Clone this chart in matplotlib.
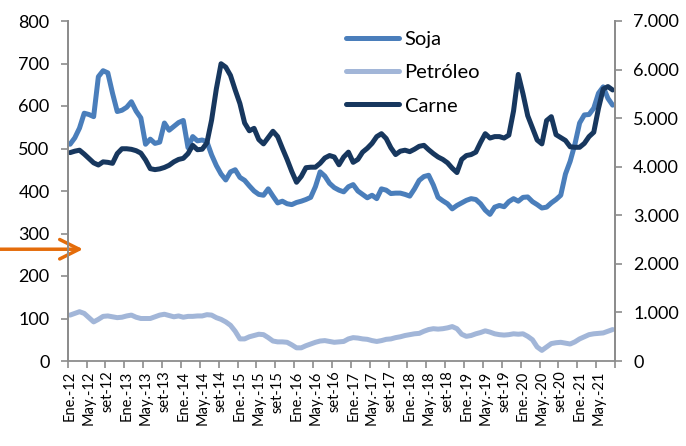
import matplotlib
matplotlib.use("Agg")
import matplotlib.pyplot as plt
from matplotlib.ticker import FuncFormatter, FixedLocator

plt.rcParams['font.family'] = ['Lato', 'DejaVu Sans']

# Monthly series, Jan-2012 .. Aug-2021
soja = [510, 525, 548, 583, 580, 575, 669, 683, 678, 630, 587, 590,
        597, 610, 588, 572, 510, 522, 512, 515, 560, 543, 552, 561,
        566, 502, 528, 518, 520, 516, 485, 460, 440, 426, 445, 450,
        432, 425, 412, 400, 392, 390, 405, 388, 372, 376, 370, 368,
        373, 376, 380, 385, 410, 445, 435, 418, 408, 402, 398, 410,
        415, 400, 392, 384, 390, 382, 405, 402, 394, 395, 395, 392,
        388, 405, 425, 434, 437, 414, 385, 377, 370, 358, 366, 372,
        378, 382, 380, 370, 355, 345, 362, 366, 363, 375, 382, 376,
        385, 386, 375, 368, 360, 362, 372, 380, 390, 440, 470, 510,
        560, 579, 580, 595, 630, 645, 618, 602]

petroleo = [108, 112, 116, 112, 102, 92, 98, 105, 106, 104, 102, 103,
            106, 108, 103, 100, 100, 100, 104, 108, 110, 107, 104, 106,
            103, 105, 105, 106, 106, 109, 108, 102, 98, 92, 84, 70,
            52, 52, 57, 60, 63, 62, 55, 47, 45, 45, 44, 38,
            31, 31, 36, 40, 44, 47, 48, 46, 44, 45, 46, 52,
            55, 54, 52, 51, 48, 46, 48, 51, 52, 55, 57, 60,
            62, 64, 65, 70, 74, 76, 75, 76, 78, 81, 76, 63,
            58, 60, 64, 67, 71, 68, 64, 62, 61, 62, 64, 63,
            64, 58, 50, 33, 25, 33, 41, 43, 44, 42, 40, 45,
            52, 57, 62, 64, 65, 66, 70, 74]

carne = [4290, 4320, 4340, 4260, 4170, 4080, 4035, 4100, 4090, 4070, 4270, 4370,
         4370, 4358, 4330, 4280, 4140, 3960, 3940, 3955, 3985, 4030, 4100, 4150,
         4173, 4270, 4440, 4350, 4360, 4490, 4960, 5600, 6120, 6050, 5880, 5580,
         5300, 4900, 4740, 4790, 4560, 4470, 4600, 4730, 4620, 4380, 4150, 3900,
         3680, 3800, 3980, 3990, 3990, 4070, 4180, 4230, 4200, 4040, 4200, 4300,
         4090, 4150, 4300, 4380, 4480, 4620, 4680, 4580, 4390, 4250, 4320, 4340,
         4310, 4360, 4420, 4440, 4350, 4270, 4200, 4150, 4080, 3970, 3880, 4150,
         4230, 4250, 4300, 4500, 4680, 4590, 4620, 4620, 4590, 4650, 5150, 5900,
         5500, 5050, 4800, 4550, 4470, 4950, 5030, 4660, 4600, 4540, 4410, 4400,
         4400, 4480, 4620, 4710, 5200, 5600, 5650, 5580]

tick_labels = ['Ene.-12', 'May.-12', 'set-12', 'Ene.-13', 'May.-13', 'set-13',
               'Ene.-14', 'May.-14', 'set-14', 'Ene.-15', 'May.-15', 'set-15',
               'Ene.-16', 'May.-16', 'set-16', 'Ene.-17', 'May.-17', 'set-17',
               'Ene.-18', 'May.-18', 'set-18', 'Ene.-19', 'May.-19', 'set-19',
               'Ene.-20', 'May.-20', 'set-20', 'Ene.-21', 'May.-21']

c_soja = '#4a7ebb'
c_petro = '#a2b6d8'
c_carne = '#17375e'
c_axis = '#8c8c8c'

n = len(soja)
x = list(range(n))

fig = plt.figure(figsize=(6.86, 4.46), dpi=100)
ax = fig.add_axes([67.7 / 686, 1 - 361 / 446, (615 - 67.7) / 686, (361 - 21) / 446])
ax2 = ax.twinx()

l1, = ax.plot(x, soja, color=c_soja, lw=3.6, solid_capstyle='round', label='Soja')
l2, = ax.plot(x, petroleo, color=c_petro, lw=3.6, solid_capstyle='round', label='Petróleo')
l3, = ax2.plot(x, carne, color=c_carne, lw=3.6, solid_capstyle='round', label='Carne')

ax.set_xlim(-0.5, n - 0.5)
ax.set_ylim(0, 800)
ax2.set_ylim(0, 7000)
ax.set_yticks(range(0, 801, 100))
ax2.set_yticks(range(0, 7001, 1000))
ax2.yaxis.set_major_formatter(FuncFormatter(lambda v, p: f"{int(v):,}".replace(',', '.')))

label_pos = list(range(0, n, 4))[:len(tick_labels)]
ax.set_xticks(label_pos)
ax.set_xticklabels(tick_labels, rotation=90, fontsize=10.5)
ax.xaxis.set_minor_locator(FixedLocator([p - 0.5 for p in range(0, n + 1, 4)]))
ax.tick_params(axis='x', which='major', length=0, pad=7)
ax.tick_params(axis='x', which='minor', length=5, width=1.2, color=c_axis)
ax.tick_params(axis='y', length=5, width=1.2, color=c_axis, labelsize=13, pad=8)
ax2.tick_params(axis='y', length=5, width=1.2, color=c_axis, labelsize=13, pad=8)

for a in (ax, ax2):
    a.spines['top'].set_visible(False)
    for s in ('left', 'right', 'bottom'):
        a.spines[s].set_color(c_axis)
        a.spines[s].set_linewidth(1.3)
ax2.spines['bottom'].set_visible(False)

leg = ax2.legend(handles=[l1, l2, l3], loc='upper left', bbox_to_anchor=(0.483, 1.012),
                 frameon=False, fontsize=14.5, handlelength=2.6, labelspacing=0.8,
                 handletextpad=0.3, borderpad=0.2)

ax.annotate('', xy=(0.028, 263), xytext=(-0.13, 263),
            xycoords=ax.get_yaxis_transform(), textcoords=ax.get_yaxis_transform(),
            annotation_clip=False,
            arrowprops=dict(arrowstyle='->,head_length=1.4,head_width=0.7',
                            color='#e46c0a', lw=2.5, shrinkA=0, shrinkB=0))

fig.savefig('out.png', dpi=100)
